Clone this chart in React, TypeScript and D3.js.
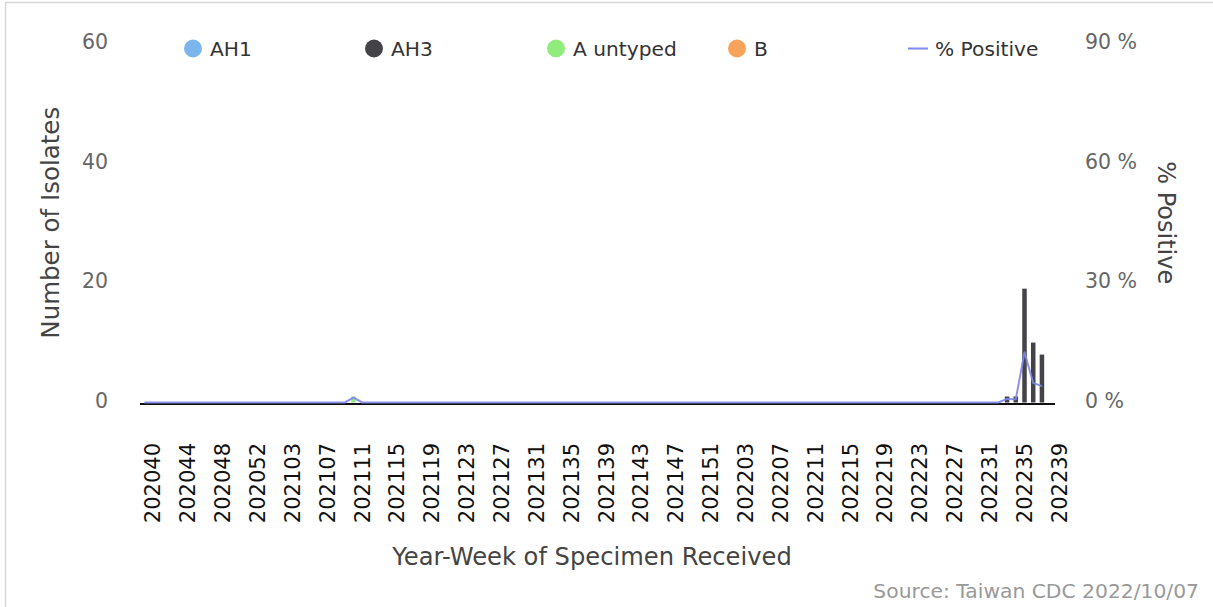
import React from "react";
import * as d3 from "d3";

// categories: ISO year-week, 2020 has 53 weeks
const weeks: string[] = [];
for (let w = 39; w <= 53; w++) weeks.push(`2020${String(w).padStart(2, "0")}`);
for (let w = 1; w <= 52; w++) weeks.push(`2021${String(w).padStart(2, "0")}`);
for (let w = 1; w <= 39; w++) weeks.push(`2022${String(w).padStart(2, "0")}`);

const tickWeeks = [
  "202040", "202044", "202048", "202052", "202103", "202107", "202111",
  "202115", "202119", "202123", "202127", "202131", "202135", "202139",
  "202143", "202147", "202151", "202203", "202207", "202211", "202215",
  "202219", "202223", "202227", "202231", "202235", "202239",
];

const seriesNames = ["AH1", "AH3", "A untyped", "B"];
const seriesColors = ["#7cb5ec", "#434348", "#90ed7d", "#f7a35c"];
const lineColor = "#8085e9";

// isolates per week (weeks not listed had none)
const ah1: Record<string, number> = {};
const ah3: Record<string, number> = { "202233": 1, "202234": 1, "202235": 19, "202236": 10, "202237": 8 };
const aUntyped: Record<string, number> = { "202110": 1 };
const fluB: Record<string, number> = {};

// % positive per week
const pctPositive: Record<string, number> = {
  "202110": 1.2, "202233": 0.9, "202234": 0.8, "202235": 12.6, "202236": 4.9, "202237": 4.1,
};
const lastReportedWeek = "202237";
const axisEndWeek = "202238";

const leftTicks = [0, 20, 40, 60];
const rightTicks = [0, 30, 60, 90];

const font = "DejaVu Sans";

const App = () => {
  const left = 140, right = 1055, top = 43, bottom = 402.5;
  const endIdx = weeks.indexOf(axisEndWeek) + 1;
  const x = d3.scaleLinear().domain([0, endIdx]).range([left, right]);
  const cx = (w: string) => x(weeks.indexOf(w) + 0.5);
  const y = d3.scaleLinear().domain([0, 60]).range([bottom, top]);
  const yPct = d3.scaleLinear().domain([0, 90]).range([bottom, top]);

  const sources = [ah1, ah3, aUntyped, fluB];
  const rows = weeks.map((w) => {
    const r: Record<string, any> = { week: w };
    seriesNames.forEach((n, i) => (r[n] = sources[i][w] ?? 0));
    return r;
  });
  const stacked = d3.stack().keys(seriesNames)(rows as any);
  const barW = 4.5;

  const lineWeeks = weeks.slice(0, weeks.indexOf(lastReportedWeek) + 1);
  const linePath = d3
    .line<string>()
    .x((w) => cx(w))
    .y((w) => yPct(pctPositive[w] ?? 0))(lineWeeks);

  const legendX = [193, 374, 556, 737];

  return (
    <div style={{ position: "absolute", left: 0, top: 0 }}>
      <svg width={1213} height={607} style={{ display: "block", fontFamily: font }}>
        <rect x={5.5} y={2.5} width={1400} height={800} fill="#fff" stroke="#d8d8d8" strokeWidth={1.5} />

        {/* left axis labels */}
        {leftTicks.map((t) => (
          <text key={"l" + t} x={108} y={y(t) - 1.5} dy="0.35em" textAnchor="end" fontSize={20.5} fill="#666">
            {t}
          </text>
        ))}
        {/* right axis labels */}
        {rightTicks.map((t) => (
          <text key={"r" + t} x={1085} y={yPct(t) - 1.5} dy="0.35em" textAnchor="start" fontSize={20.5} fill="#666">
            {t} %
          </text>
        ))}

        <text transform={`translate(50,${(top + bottom) / 2}) rotate(-90)`} dy="0.35em" textAnchor="middle" fontSize={24.5} fill="#444">
          Number of Isolates
        </text>
        <text transform={`translate(1166,${(top + bottom) / 2}) rotate(90)`} dy="0.35em" textAnchor="middle" fontSize={24} fill="#444">
          % Positive
        </text>
        <text x={592} y={557} dy="0.35em" textAnchor="middle" fontSize={24.2} fill="#444">
          Year-Week of Specimen Received
        </text>

        {/* bars */}
        {stacked.map((s, i) => (
          <g key={seriesNames[i]} fill={seriesColors[i]}>
            {s.map((d, j) =>
              d[1] - d[0] > 0 ? (
                <rect key={j} x={cx(weeks[j]) - barW / 2} width={barW} y={y(d[1])} height={y(d[0]) - y(d[1])} />
              ) : null
            )}
          </g>
        ))}

        {/* x axis */}
        <line x1={left} x2={right} y1={bottom + 1.5} y2={bottom + 1.5} stroke="#111" strokeWidth={1.8} />
        {tickWeeks.map((w) => (
          <text key={w} transform={`translate(${cx(w)},443) rotate(-90)`} dy="0.35em" textAnchor="end" fontSize={21} fill="#111">
            {w}
          </text>
        ))}

        {/* % positive line */}
        <path d={linePath ?? ""} fill="none" stroke={lineColor} strokeWidth={2} strokeOpacity={0.9} strokeLinejoin="round" />

        {/* legend */}
        {seriesNames.map((n, i) => (
          <g key={"lg" + n}>
            <circle cx={legendX[i]} cy={48.5} r={9} fill={seriesColors[i]} />
            <text x={legendX[i] + 17} y={49} dy="0.35em" fontSize={20.2} fill="#333">
              {n}
            </text>
          </g>
        ))}
        <line x1={908} x2={928} y1={48.5} y2={48.5} stroke={lineColor} strokeWidth={2} />
        <text x={935} y={49} dy="0.35em" fontSize={20.2} fill="#333">
          % Positive
        </text>

        <text x={1199} y={591} dy="0.35em" textAnchor="end" fontSize={20.3} fill="#999">
          Source: Taiwan CDC 2022/10/07
        </text>
      </svg>
    </div>
  );
};

export default App;
